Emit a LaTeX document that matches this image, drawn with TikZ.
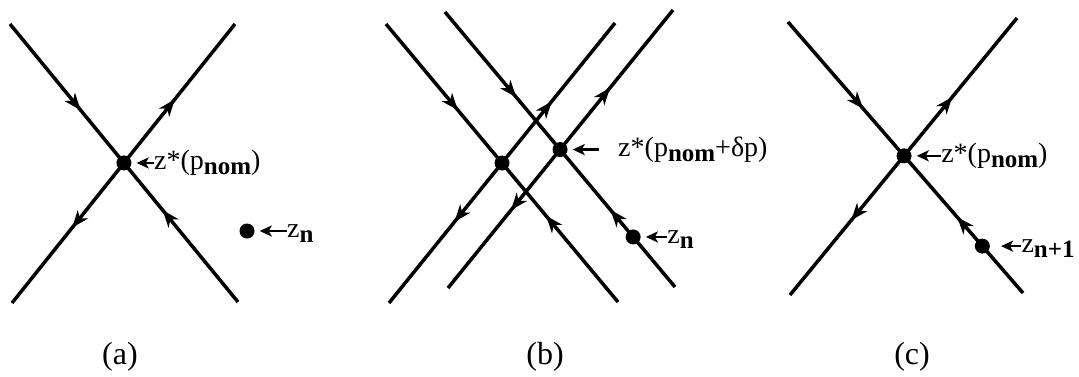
\documentclass[tikz,border=0pt]{standalone}
\usepackage{fontspec}
\setmainfont{Liberation Serif}
\newfontfamily\tnr{Liberation Serif}
\usetikzlibrary{arrows.meta,decorations.markings}
\newcommand{\sbx}[1]{\raisebox{-5pt}{\fontsize{25}{25}\selectfont\bfseries #1}}
\tikzset{
  traj/.style={line width=3.5pt},
  mytip/.tip={Stealth[length=17pt,width=13pt,inset=5pt]},
  inout/.style n args={2}{traj,postaction=decorate,decoration={markings,
      mark=at position #1 with {\arrow{mytip}},
      mark=at position #2 with {\arrowreversed{mytip}}}},
  outin/.style n args={2}{traj,postaction=decorate,decoration={markings,
      mark=at position #1 with {\arrowreversed{mytip}},
      mark=at position #2 with {\arrow{mytip}}}},
  dot/.style={circle,fill=black,inner sep=0pt,minimum size=15pt},
  lab/.style={inner sep=0pt,anchor=base west,font=\tnr\fontsize{28}{28}\selectfont},
  captext/.style={inner sep=0pt,font=\tnr\fontsize{32}{32}\selectfont},
  labarr/.style={line width=2.6pt,-{Stealth[length=12pt,width=11pt,inset=3pt]},shorten >=5pt}
}
\begin{document}
\begin{tikzpicture}[x=1pt,y=-1pt]
\useasboundingbox (0,0) rectangle (1079,376);
% ---------- panel (a)
\coordinate (a1) at (10,24);  \coordinate (a2) at (238,302);
\coordinate (a3) at (12,303); \coordinate (a4) at (235,24);
\draw[inout={0.31}{0.67}] (a1) -- (a2);
\draw[outin={0.27}{0.73}] (a3) -- (a4);
\node[dot] (ca) at (intersection of a1--a2 and a3--a4) {};
\node[lab] (la) at ([xshift=30pt,yshift=-6.5pt]ca) {z*(p\sbx{nom})};
\coordinate (ta) at ([xshift=30pt]ca);
\draw[labarr] (ta) -- (ca);
\node[dot] (zna) at (247,231) {};
\node[lab] (lza) at ([xshift=40pt,yshift=-6.5pt]zna) {z\sbx{n}};
\coordinate (tza) at ([xshift=40pt]zna);
\draw[labarr] (tza) -- (zna);
\node[captext] (capa) at (120,357) {(a)};
% ---------- panel (b)
\coordinate (b1) at (386,24);  \coordinate (b2) at (618,302);
\coordinate (b3) at (445,12);  \coordinate (b4) at (675,287);
\coordinate (b5) at (389,303); \coordinate (b6) at (615,23);
\coordinate (b7) at (448,288); \coordinate (b8) at (673,10);
\draw[inout={0.31}{0.69}] (b1) -- (b2);
\draw[inout={0.31}{0.72}] (b3) -- (b4);
\draw[outin={0.29}{0.72}] (b5) -- (b6);
\draw[outin={0.28}{0.72}] (b7) -- (b8);
\node[dot] (cb1) at (intersection of b1--b2 and b5--b6) {};
\node[dot] (cb2) at (intersection of b3--b4 and b7--b8) {};
\node[lab] (lb) at ([xshift=58pt,yshift=-6.5pt]cb2) {z*(p\sbx{nom}+δp)};
\coordinate (tb) at ([xshift=39pt]cb2);
\draw[labarr] (tb) -- (cb2);
\path (b3) -- (b4) coordinate[pos=0.818] (znbpos);
\node[dot] (znb) at (znbpos) {};
\node[lab] (lzb) at ([xshift=34pt,yshift=-6.5pt]znb) {z\sbx{n}};
\coordinate (tzb) at ([xshift=34pt]znb);
\draw[labarr] (tzb) -- (znb);
\node[captext] (capb) at (545,357) {(b)};
% ---------- panel (c)
\coordinate (c1) at (788,22);  \coordinate (c2) at (1023,293);
\coordinate (c3) at (790,295); \coordinate (c4) at (1017,18);
\draw[inout={0.32}{0.72}] (c1) -- (c2);
\draw[outin={0.27}{0.715}] (c3) -- (c4);
\node[dot] (cc) at (intersection of c1--c2 and c3--c4) {};
\node[lab] (lc) at ([xshift=37pt,yshift=-6.5pt]cc) {z*(p\sbx{nom})};
\coordinate (tc) at ([xshift=37pt]cc);
\draw[labarr] (tc) -- (cc);
\path (c1) -- (c2) coordinate[pos=0.827] (zncpos);
\node[dot] (znc) at (zncpos) {};
\node[lab] (lzc) at ([xshift=39pt,yshift=-6.5pt]znc) {z\sbx{n+1}};
\coordinate (tzc) at ([xshift=39pt]znc);
\draw[labarr,shorten >=11pt] (tzc) -- (znc);
\node[captext] (capc) at (912,357) {(c)};
\end{tikzpicture}
\end{document}
